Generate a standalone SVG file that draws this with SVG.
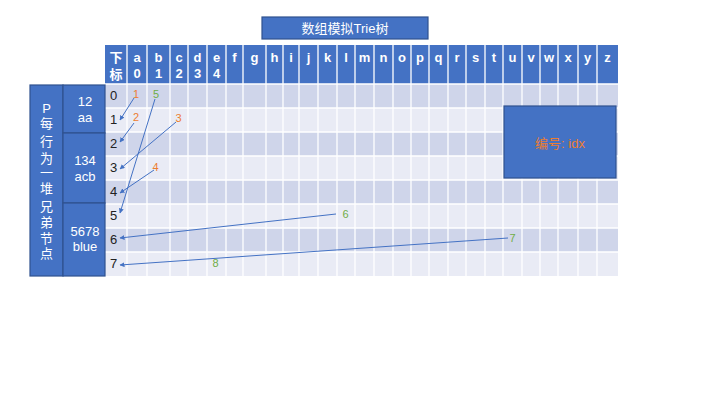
<svg xmlns="http://www.w3.org/2000/svg" width="720" height="405" viewBox="0 0 720 405">
<defs>
<marker id="ah" viewBox="0 0 10 10" refX="9" refY="5" markerWidth="5" markerHeight="5" orient="auto" markerUnits="userSpaceOnUse"><path d="M0,0 L10,5 L0,10 z" fill="#4472C4"/></marker>
</defs>
<style>
text{font-family:"Liberation Sans","Noto Sans CJK SC",sans-serif}
.hd{fill:#fff;font-size:13px;font-weight:bold;text-anchor:middle}
.wt{fill:#fff;font-size:13px;text-anchor:middle}
.ix{fill:#222;font-size:13px}
.or{fill:#ED7D31;font-size:11px;text-anchor:middle}
.gr{fill:#70AD47;font-size:11px;text-anchor:middle}
.bx{fill:#4472C4;stroke:#2F528F;stroke-width:1.2}
.gl{stroke:#fff;stroke-width:1.3}
.cn{stroke:#4472C4;stroke-width:1;fill:none;marker-end:url(#ah)}
</style>
<rect width="720" height="405" fill="#fff"/>
<g id="title"><rect class="bx" x="262" y="17" width="166" height="22"/><text class="wt" x="345" y="33" font-size="13">数组模拟Trie树</text></g>
<g id="table">
<rect x="105" y="45" width="513" height="39" fill="#4472C4"/>
<rect x="105" y="84" width="513" height="24" fill="#CFD5EA"/>
<rect x="105" y="108" width="513" height="24" fill="#E9EBF5"/>
<rect x="105" y="132" width="513" height="24" fill="#CFD5EA"/>
<rect x="105" y="156" width="513" height="24" fill="#E9EBF5"/>
<rect x="105" y="180" width="513" height="24" fill="#CFD5EA"/>
<rect x="105" y="204" width="513" height="24" fill="#E9EBF5"/>
<rect x="105" y="228" width="513" height="24" fill="#CFD5EA"/>
<rect x="105" y="252" width="513" height="24" fill="#E9EBF5"/>
<g class="gl">
<path d="M105,84H618M105,108H618M105,132H618M105,156H618M105,180H618M105,204H618M105,228H618M105,252H618"/>
<path d="M127,45V276M147,45V276M170,45V276M188,45V276M207,45V276M226,45V276M243,45V276M266,45V276M283,45V276M299,45V276M318,45V276M337,45V276M355,45V276M374,45V276M393,45V276M411,45V276M429,45V276M448,45V276M466,45V276M485,45V276M503,45V276M522,45V276M540,45V276M558,45V276M578,45V276M597,45V276"/>
</g>
<g class="hd">
<text x="116" y="62">下</text><text x="116" y="79">标</text>
<text x="137" y="62">a</text><text x="137" y="78">0</text>
<text x="158.5" y="62">b</text><text x="158.5" y="78">1</text>
<text x="179" y="62">c</text><text x="179" y="78">2</text>
<text x="197.5" y="62">d</text><text x="197.5" y="78">3</text>
<text x="216.5" y="62">e</text><text x="216.5" y="78">4</text>
<text x="234.5" y="62">f</text>
<text x="254.5" y="62">g</text>
<text x="274.5" y="62">h</text>
<text x="291" y="62">i</text>
<text x="308.5" y="62">j</text>
<text x="327.5" y="62">k</text>
<text x="346" y="62">l</text>
<text x="364.5" y="62">m</text>
<text x="383.5" y="62">n</text>
<text x="402" y="62">o</text>
<text x="420" y="62">p</text>
<text x="438.5" y="62">q</text>
<text x="457" y="62">r</text>
<text x="475.5" y="62">s</text>
<text x="494" y="62">t</text>
<text x="512.5" y="62">u</text>
<text x="531" y="62">v</text>
<text x="549" y="62">w</text>
<text x="568" y="62">x</text>
<text x="587.5" y="62">y</text>
<text x="607.5" y="62">z</text>
</g>
<g class="ix">
<text x="110" y="100">0</text><text x="110" y="124">1</text><text x="110" y="148">2</text><text x="110" y="172">3</text>
<text x="110" y="196">4</text><text x="110" y="220">5</text><text x="110" y="244">6</text><text x="110" y="268">7</text>
</g>
</g>
<g id="left-panel">
<rect class="bx" x="30" y="85" width="33" height="191"/>
<rect class="bx" x="63" y="85" width="42" height="48"/>
<rect class="bx" x="63" y="133" width="42" height="70"/>
<rect class="bx" x="63" y="203" width="42" height="73"/>
<g class="wt" font-size="14">
<text x="46.5" y="113">P</text><text x="46.5" y="128">每</text><text x="46.5" y="146">行</text><text x="46.5" y="163">为</text><text x="46.5" y="177">一</text><text x="46.5" y="193">堆</text><text x="46.5" y="211">兄</text><text x="46.5" y="227">弟</text><text x="46.5" y="243">节</text><text x="46.5" y="258">点</text>
</g>
<text class="wt" x="85" y="106">12</text><text class="wt" x="85" y="122">aa</text>
<text class="wt" x="85" y="165">134</text><text class="wt" x="85" y="181">acb</text>
<text class="wt" x="85" y="236">5678</text><text class="wt" x="85" y="251">blue</text>
</g>
<g id="idx-box"><rect class="bx" x="504" y="106" width="112" height="72"/><text x="560" y="148" font-size="13" fill="#ED7D31" text-anchor="middle">编号: idx</text></g>
<g id="labels">
<text class="or" x="136" y="98">1</text>
<text class="gr" x="156" y="98">5</text>
<text class="or" x="136" y="121">2</text>
<text class="or" x="178.5" y="122">3</text>
<text class="or" x="155.5" y="171">4</text>
<text class="gr" x="345.5" y="218">6</text>
<text class="gr" x="512.5" y="242">7</text>
<text class="gr" x="215.5" y="267">8</text>
</g>
<g id="connectors">
<line class="cn" x1="134" y1="98" x2="120" y2="120"/>
<line class="cn" x1="134" y1="123" x2="120" y2="142"/>
<line class="cn" x1="176" y1="122" x2="120" y2="169"/>
<line class="cn" x1="154" y1="170" x2="120" y2="193"/>
<line class="cn" x1="155" y1="99" x2="120" y2="213"/>
<line class="cn" x1="336" y1="214" x2="120" y2="238"/>
<line class="cn" x1="508" y1="238" x2="120" y2="265"/>
</g>
</svg>
